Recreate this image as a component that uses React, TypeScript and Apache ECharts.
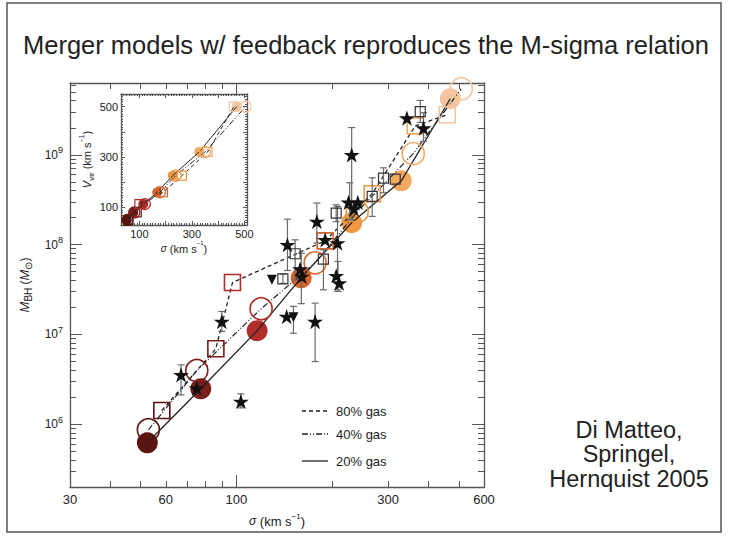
import React, { useEffect, useRef } from 'react';
import * as echarts from 'echarts';

const TITLE = 'Merger models w/ feedback reproduces the M-sigma relation';
const CREDIT_LINES = ['Di Matteo,', 'Springel,', 'Hernquist 2005'];
const LEGEND_NAMES = ['80% gas', '40% gas', '20% gas'];

// main axes (log-log)
const X_MIN = 30;
const X_MAX = 600;
const Y_MIN = 2e5;
const Y_MAX = 6.3e9;
const X_LABELS = [30, 60, 100, 300, 600];
const X_MAJOR_TICKS = [100];
const X_MINOR_TICKS = [40, 50, 60, 70, 80, 90, 200, 300, 400, 500];
const Y_LABELS = [1e6, 1e7, 1e8, 1e9];
const Y_MINOR_TICKS = [
  3e5, 4e5, 5e5, 6e5, 7e5, 8e5, 9e5,
  2e6, 3e6, 4e6, 5e6, 6e6, 7e6, 8e6, 9e6,
  2e7, 3e7, 4e7, 5e7, 6e7, 7e7, 8e7, 9e7,
  2e8, 3e8, 4e8, 5e8, 6e8, 7e8, 8e8, 9e8,
  2e9, 3e9, 4e9, 5e9, 6e9,
];

// colours of the simulated galaxies (by virial velocity, small -> large)
const SIZE_COLORS = ['#5a1511', '#7b1d1a', '#b12d2a', '#d8632c', '#ef9844', '#f2a95f', '#f3c6a0'];

// simulations: 80% gas (open squares), 40% gas (open circles), 20% gas (filled circles)
const SQ80_SIGMA = [58.3, 86.2, 97.2, 190.1, 267.2, 364.9, 459.9];
const SQ80_MBH = [1.42e6, 6.92e6, 3.78e7, 1.1e8, 3.68e8, 2.1e9, 2.79e9];
const OC40_SIGMA = [52.9, 75.1, 119.6, 176.8, 239.7, 359.5, 509];
const OC40_MBH = [8.67e5, 3.96e6, 1.93e7, 6.27e7, 2.32e8, 1.03e9, 5.43e9];
const FC20_SIGMA = [52.5, 77.3, 116.2, 159.8, 230.3, 329.8, 470];
const FC20_MBH = [6.21e5, 2.48e6, 1.1e7, 4.27e7, 1.75e8, 5.13e8, 4.21e9];

// observations
const STAR_SIGMA = [67.0, 75.1, 90.0, 103.3, 143.9, 176.8, 158.6, 160.6, 144.7, 179.0, 190.1, 207.9, 205.9, 210.4, 225.1, 240.8, 234.0, 230.3, 343.6, 387.3];
const STAR_MBH = [3.55e6, 2.52e6, 1.39e7, 1.79e6, 1.58e7, 1.39e7, 5.33e7, 4.42e7, 9.96e7, 1.81e8, 1.13e8, 1.04e8, 4.5e7, 3.72e7, 2.96e8, 2.96e8, 2.5e8, 1.0e9, 2.56e9, 1.98e9];
const OBS_SQ_SIGMA = [140, 153, 187.7, 205.9, 267.2, 290, 315.6, 378.3];
const OBS_SQ_MBH = [4.16e7, 7.91e7, 6.9e7, 2.24e8, 3.44e8, 5.5e8, 5.36e8, 3.03e9];
const TRI_SIGMA = [129.3, 151.1];
const TRI_MBH = [4.05e7, 1.55e7];
const ERR_SIGMA = [67.0, 90.0, 103.3, 151.1, 176.8, 160.0, 144.7, 179.0, 207.9, 208.5, 227.0, 230.3, 387.3, 140, 153, 187.7, 205.9, 267.2, 290, 378.3];
const ERR_LO = [2.12e6, 1.08e7, 1.52e6, 1.03e7, 4.99e6, 2.2e7, 5.15e7, 1.04e8, 3.14e7, 3.01e7, 1.89e8, 1.89e8, 1.41e9, 3.7e7, 4.05e7, 3.14e7, 1.8e8, 2.06e8, 3.78e8, 2.29e9];
const ERR_HI = [4.58e6, 1.8e7, 2.18e6, 2.05e7, 2.23e7, 8.0e7, 1.92e8, 2.9e8, 2.66e8, 6.49e7, 4.88e8, 2.01e9, 2.94e9, 4.7e7, 1.13e8, 8.75e7, 2.77e8, 5.55e8, 7.16e8, 4.03e9];

// inset: V_vir vs sigma (linear)
const IN_X_MIN = 30;
const IN_X_MAX = 510;
const IN_Y_MIN = 30;
const IN_Y_MAX = 550;
const IN_LABELS = [100, 300, 500];
const IN_MAJOR_TICKS = [100, 200, 300, 400, 500];
const IN_X_MINOR_TICKS = [40, 50, 60, 70, 80, 90, 110, 120, 130, 140, 150, 160, 170, 180, 190, 210, 220, 230, 240, 250, 260, 270, 280, 290, 310, 320, 330, 340, 350, 360, 370, 380, 390, 410, 420, 430, 440, 450, 460, 470, 480, 490];
const IN_Y_MINOR_TICKS = [40, 50, 60, 70, 80, 90, 110, 120, 130, 140, 150, 160, 170, 180, 190, 210, 220, 230, 240, 250, 260, 270, 280, 290, 310, 320, 330, 340, 350, 360, 370, 380, 390, 410, 420, 430, 440, 450, 460, 470, 480, 490, 510, 520, 530, 540];
const IN_VVIR = [50, 80, 113, 160, 226, 320, 500];
const IN_SQ_SIGMA = [58, 90, 100, 190, 262, 360, 460];
const IN_OC_SIGMA = [55, 81, 121, 178, 238, 350, 505];
const IN_FC_SIGMA = [52, 77, 115, 168, 227, 328, 471];

const FONT = '"Liberation Sans", Arial, Helvetica, sans-serif';
const AX = '#555';
const INK = '#222';
const STAR = 'path://M50,0 L61.2,34.5 L97.6,34.5 L68.2,55.9 L79.4,90.5 L50,69.1 L20.6,90.5 L31.8,55.9 L2.4,34.5 L38.8,34.5 Z';
const lg = (v: number) => Math.log10(v);

function axis(opts: any) {
  const { gridIndex, position, min, max, ticks, len, line, labels, formatter, fontSize, margin, name, nameGap, rich, lineHeight } = opts;
  return {
    type: 'value',
    gridIndex,
    position,
    min,
    max,
    splitLine: { show: false },
    axisLine: { show: line, onZero: false, lineStyle: { color: AX, width: 1.3 } },
    axisTick: { show: true, inside: true, length: len, customValues: ticks, lineStyle: { color: AX, width: 1 } },
    axisLabel: labels
      ? { show: true, customValues: labels, formatter, color: INK, fontSize, fontFamily: FONT, margin, lineHeight, rich }
      : { show: false },
    name: name || '',
    nameLocation: 'middle',
    nameGap,
    nameTextStyle: { color: INK, fontSize, fontFamily: FONT, lineHeight: 18, rich },
    silent: true,
  };
}

function buildOption() {
  const supRich = (fs: number) => ({
    s: { fontSize: fs - 4, lineHeight: 8, verticalAlign: 'top', fontFamily: FONT, color: INK },
    sub: { fontSize: fs - 3, lineHeight: 8, verticalAlign: 'bottom', fontFamily: FONT, color: INK },
    i: { fontStyle: 'italic', fontSize: fs, fontFamily: FONT, color: INK },
  });
  const xFmt = (v: number) => String(Math.round(Math.pow(10, v)));
  const yFmt = (v: number) => `10{s|${Math.round(v)}}`;
  const linFmt = (v: number) => String(Math.round(v));

  const mx = { gridIndex: 0, min: lg(X_MIN), max: lg(X_MAX) };
  const my = { gridIndex: 0, min: lg(Y_MIN), max: lg(Y_MAX) };
  const ix = { gridIndex: 1, min: IN_X_MIN, max: IN_X_MAX };
  const iy = { gridIndex: 1, min: IN_Y_MIN, max: IN_Y_MAX };

  const xAxis = [
    axis({ ...mx, position: 'bottom', ticks: X_MAJOR_TICKS.map(lg), len: 12, line: true, labels: X_LABELS.map(lg), formatter: xFmt, fontSize: 13, margin: 6, name: '{i|σ} (km s{s|−1})', nameGap: 25, rich: supRich(12) }),
    axis({ ...mx, position: 'bottom', ticks: X_MINOR_TICKS.map(lg), len: 6, line: false }),
    axis({ ...mx, position: 'top', ticks: X_MAJOR_TICKS.map(lg), len: 12, line: true }),
    axis({ ...mx, position: 'top', ticks: X_MINOR_TICKS.map(lg), len: 6, line: false }),
    axis({ ...ix, position: 'bottom', ticks: IN_MAJOR_TICKS, len: 4, line: true, labels: IN_LABELS, formatter: linFmt, fontSize: 11, margin: 3, name: '{i|σ} (km s{s|−1})', nameGap: 14, rich: supRich(10) }),
    axis({ ...ix, position: 'bottom', ticks: IN_X_MINOR_TICKS, len: 2, line: false }),
    axis({ ...ix, position: 'top', ticks: IN_MAJOR_TICKS, len: 4, line: true }),
    axis({ ...ix, position: 'top', ticks: IN_X_MINOR_TICKS, len: 2, line: false }),
  ];
  const yAxis = [
    axis({ ...my, position: 'left', ticks: Y_LABELS.map(lg), len: 12, line: true, labels: Y_LABELS.map(lg), formatter: yFmt, fontSize: 12, margin: 7, lineHeight: 18, name: '{i|M}{sub|BH} ({i|M}{sub|⊙})', nameGap: 25, rich: supRich(13) }),
    axis({ ...my, position: 'left', ticks: Y_MINOR_TICKS.map(lg), len: 6, line: false }),
    axis({ ...my, position: 'right', ticks: Y_LABELS.map(lg), len: 12, line: true }),
    axis({ ...my, position: 'right', ticks: Y_MINOR_TICKS.map(lg), len: 6, line: false }),
    axis({ ...iy, position: 'left', ticks: IN_MAJOR_TICKS, len: 4, line: true, labels: IN_LABELS, formatter: linFmt, fontSize: 11, margin: 3, name: '{i|V}{sub|vir} (km s{s|−1})', nameGap: 24, rich: supRich(11) }),
    axis({ ...iy, position: 'left', ticks: IN_Y_MINOR_TICKS, len: 2, line: false }),
    axis({ ...iy, position: 'right', ticks: IN_MAJOR_TICKS, len: 4, line: true }),
    axis({ ...iy, position: 'right', ticks: IN_Y_MINOR_TICKS, len: 2, line: false }),
  ];

  const logPts = (xs: number[], ys: number[]) => xs.map((x, i) => [lg(x), lg(ys[i])]);
  const linPts = (xs: number[], ys: number[]) => xs.map((x, i) => [x, ys[i]]);
  const coloredPts = (pts: number[][], filled: boolean, bw: number) =>
    pts.map((p, i) => ({
      value: p,
      itemStyle: filled
        ? { color: SIZE_COLORS[i], borderWidth: 0, opacity: 1 }
        : { color: 'rgba(0,0,0,0)', borderColor: SIZE_COLORS[i], borderWidth: bw, opacity: 1 },
    }));

  const DASHES: any[] = [[4, 3], [6, 2, 1, 2, 1, 2], 'solid'];
  const lineSeries = (pts: number[][], k: number, xi: number, w: number) => ({
    type: 'line',
    xAxisIndex: xi,
    yAxisIndex: xi,
    data: pts,
    symbol: 'none',
    showSymbol: false,
    silent: true,
    z: 3,
    lineStyle: { color: INK, width: w, type: DASHES[k], opacity: 1 },
  });
  const scatter = (data: any[], xi: number, symbol: string, size: number, z: number, extra: any = {}) => ({
    type: 'scatter',
    xAxisIndex: xi,
    yAxisIndex: xi,
    data,
    symbol,
    symbolSize: size,
    symbolKeepAspect: true,
    silent: true,
    z,
    itemStyle: { opacity: 1 },
    ...extra,
  });

  const main80 = logPts(SQ80_SIGMA, SQ80_MBH);
  const main40 = logPts(OC40_SIGMA, OC40_MBH);
  const main20 = logPts(FC20_SIGMA, FC20_MBH);
  const in80 = linPts(IN_SQ_SIGMA, IN_VVIR);
  const in40 = linPts(IN_OC_SIGMA, IN_VVIR);
  const in20 = linPts(IN_FC_SIGMA, IN_VVIR);

  const series: any[] = [
    scatter(coloredPts(main20, true, 0), 0, 'circle', 21, 2),
    lineSeries(main80, 0, 0, 1.3),
    lineSeries(main40, 1, 0, 1.2),
    lineSeries(main20, 2, 0, 1.3),
    scatter(coloredPts(main40, false, 1.6), 0, 'circle', 22, 4),
    scatter(coloredPts(main80, false, 1.6), 0, 'rect', 16, 4),
    {
      type: 'custom',
      xAxisIndex: 0,
      yAxisIndex: 0,
      silent: true,
      z: 5,
      data: ERR_SIGMA.map((s, i) => [lg(s), lg(ERR_LO[i]), lg(ERR_HI[i])]),
      encode: { x: 0, y: [1, 2] },
      renderItem: (_p: any, api: any) => {
        const x = api.value(0);
        const a = api.coord([x, api.value(1)]);
        const b = api.coord([x, api.value(2)]);
        const w = 3.5;
        const style = { stroke: '#6a6a6a', lineWidth: 1.2 };
        return {
          type: 'group',
          children: [
            { type: 'line', shape: { x1: a[0], y1: a[1], x2: b[0], y2: b[1] }, style },
            { type: 'line', shape: { x1: a[0] - w, y1: a[1], x2: a[0] + w, y2: a[1] }, style },
            { type: 'line', shape: { x1: b[0] - w, y1: b[1], x2: b[0] + w, y2: b[1] }, style },
          ],
        };
      },
    },
    scatter(logPts(OBS_SQ_SIGMA, OBS_SQ_MBH), 0, 'rect', 10, 6, { itemStyle: { color: 'rgba(0,0,0,0)', borderColor: '#333', borderWidth: 1.2, opacity: 1 } }),
    scatter(logPts(TRI_SIGMA, TRI_MBH), 0, 'triangle', 10, 6, { symbolRotate: 180, itemStyle: { color: '#111', opacity: 1 } }),
    scatter(logPts(STAR_SIGMA, STAR_MBH), 0, STAR, 16, 7, { itemStyle: { color: '#111', opacity: 1 } }),
    // inset
    scatter(coloredPts(in20, true, 0), 4, 'circle', 10, 2),
    lineSeries(in80, 0, 4, 1),
    lineSeries(in40, 1, 4, 1),
    lineSeries(in20, 2, 4, 1),
    scatter(coloredPts(in40, false, 1.2), 4, 'circle', 11, 4),
    scatter(coloredPts(in80, false, 1.2), 4, 'rect', 9, 4),
  ];

  const legendYs = [411, 434, 461];
  const graphic: any[] = [
    { type: 'rect', silent: true, shape: { x: 7, y: 3, width: 714, height: 529 }, style: { fill: 'none', stroke: '#555', lineWidth: 1.5 } },
    { type: 'rect', silent: true, shape: { x: 121, y: 94, width: 126, height: 131 }, style: { fill: '#fff' }, z: -10 },
    {
      type: 'text', silent: true, x: 366, y: 45,
      style: { text: TITLE, fontSize: 25.5, fontFamily: FONT, fill: INK, align: 'center', verticalAlign: 'middle', textAlign: 'center', textVerticalAlign: 'middle' },
    },
    {
      type: 'text', silent: true, x: 629, y: 454,
      style: { text: CREDIT_LINES.join('\n'), fontSize: 23.5, lineHeight: 24.5, fontFamily: FONT, fill: INK, align: 'center', verticalAlign: 'middle', textAlign: 'center', textVerticalAlign: 'middle' },
    },
    ...LEGEND_NAMES.flatMap((n, k) => [
      {
        type: 'line', silent: true,
        shape: { x1: 302, y1: legendYs[k], x2: 328, y2: legendYs[k] },
        style: { stroke: INK, lineWidth: 1.3, lineDash: k === 2 ? null : DASHES[k] },
      },
      {
        type: 'text', silent: true, x: 336, y: legendYs[k],
        style: { text: n, fontSize: 13, fontFamily: FONT, fill: INK, align: 'left', verticalAlign: 'middle', textAlign: 'left', textVerticalAlign: 'middle' },
      },
    ]),
  ];

  return {
    animation: false,
    backgroundColor: '#fff',
    grid: [
      { left: 70, top: 83, width: 414, height: 404 },
      { left: 121, top: 94, width: 126, height: 131 },
    ],
    xAxis,
    yAxis,
    series,
    graphic,
  };
}

export default function App() {
  const ref = useRef<HTMLDivElement>(null);
  useEffect(() => {
    if (!ref.current) return;
    const chart = echarts.init(ref.current, null, { renderer: 'svg' });
    chart.setOption(buildOption() as any);
    return () => chart.dispose();
  }, []);
  return (
    <div
      ref={ref}
      style={{ position: 'fixed', left: 0, top: 0, width: 730, height: 538, background: '#fff' }}
    />
  );
}
